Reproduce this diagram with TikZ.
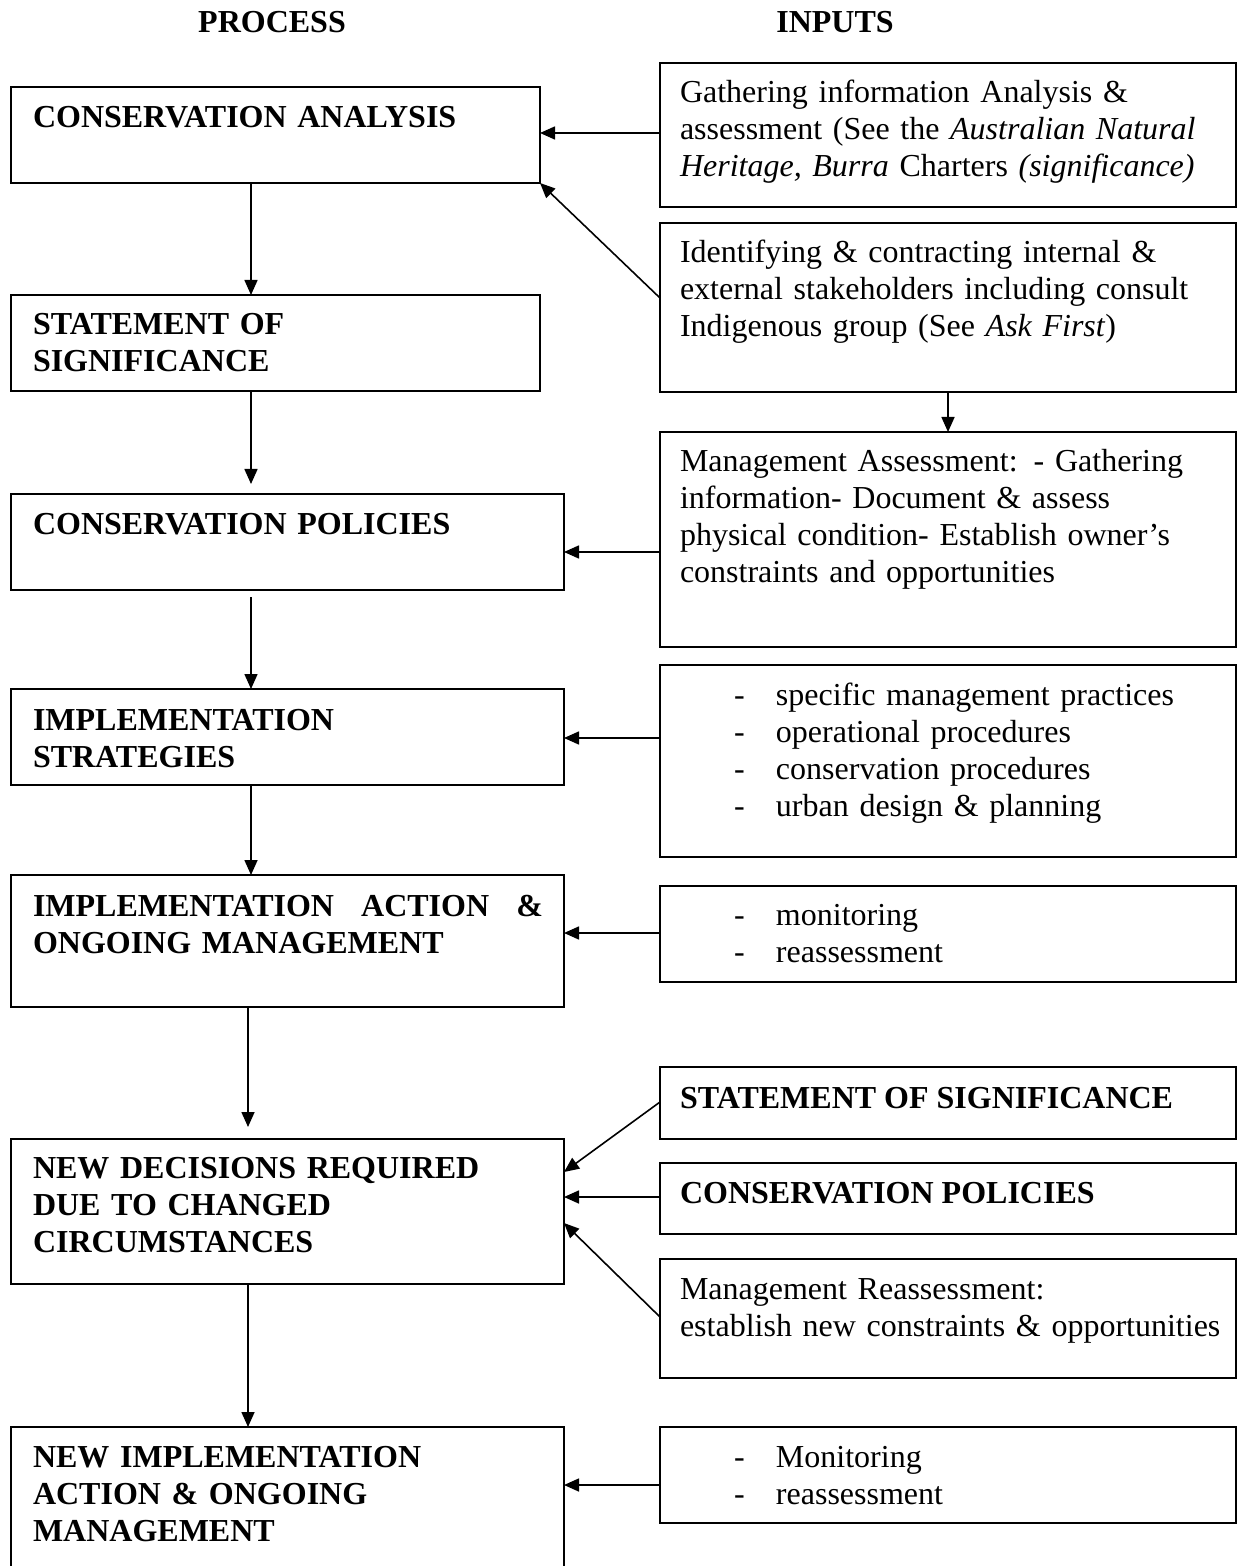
\documentclass[tikz,border=0pt]{standalone}
\usepackage{fontspec}
\setmainfont{Liberation Serif}
\usetikzlibrary{arrows.meta,fit}
\begin{document}
\begin{tikzpicture}[x=0.5pt,y=-0.5pt,
  box/.style={draw, line width=1pt, inner sep=0pt, outer sep=0pt},
  txt/.style={anchor=base west, inner sep=0pt, outer sep=0pt, align=left, font=\fontsize{16pt}{18.5pt}\selectfont},
  btxt/.style={txt, font=\fontsize{16pt}{18.5pt}\selectfont\bfseries},
  ltxt/.style={btxt, text width=255pt},
  rtxt/.style={txt, text width=280pt},
  hdr/.style={anchor=base, inner sep=0pt, font=\fontsize{16pt}{18.5pt}\selectfont\bfseries},
  arr/.style={-{Triangle[length=7.5pt,width=6.5pt]}, line width=0.8pt}]
\useasboundingbox (0,0) rectangle (1238,1566);

% headers
\node[hdr] (hp) at (272,33) {PROCESS};
\node[hdr] (hi) at (835,33) {INPUTS};

% process column
\node[box, fit={(11,87) (540,183)}] (b1) {};
\node[ltxt] (b1t) at (33,128) {CONSERVATION ANALYSIS};
\node[box, fit={(11,295) (540,391)}] (b2) {};
\node[ltxt] (b2t) at (33,335) {STATEMENT OF\\SIGNIFICANCE};
\node[box, fit={(11,494) (564,590)}] (b3) {};
\node[ltxt] (b3t) at (33,535) {CONSERVATION POLICIES};
\node[box, fit={(11,689) (564,785)}] (b4) {};
\node[ltxt] (b4t) at (33,730) {IMPLEMENTATION\\STRATEGIES};
\node[box, fit={(11,875) (564,1007)}] (b5) {};
\node[ltxt] (b5t) at (33,916) {IMPLEMENTATION\hfill ACTION\hfill \&\\ONGOING MANAGEMENT};
\node[box, fit={(11,1139) (564,1284)}] (b6) {};
\node[ltxt] (b6t) at (33,1178) {NEW DECISIONS REQUIRED\\DUE TO CHANGED\\CIRCUMSTANCES};
\node[box, fit={(11,1427) (564,1640)}] (b7) {};
\node[ltxt] (b7t) at (33,1467) {NEW IMPLEMENTATION\\ACTION \& ONGOING\\MANAGEMENT};

% inputs column
\node[box, fit={(660,63) (1236,207)}] (r1) {};
\node[rtxt] (r1t) at (680,103) {Gathering information Analysis \&\\assessment (See the \textit{Australian Natural}\\\textit{Heritage, Burra} Charters \textit{(significance)}};
\node[box, fit={(660,223) (1236,392)}] (r2) {};
\node[rtxt] (r2t) at (680,263) {Identifying \& contracting internal \&\\external stakeholders including consult\\Indigenous group (See \textit{Ask First})};
\node[box, fit={(660,432) (1236,647)}] (r3) {};
\node[rtxt] (r3t) at (680,472) {Management Assessment: - Gathering\\information- Document \& assess\\physical condition- Establish owner’s\\constraints and opportunities};
\node[box, fit={(660,665) (1236,857)}] (r4) {};
\node[rtxt] (r4t) at (734,705) {\makebox[21pt][l]{-}specific management practices\\\makebox[21pt][l]{-}operational procedures\\\makebox[21pt][l]{-}conservation procedures\\\makebox[21pt][l]{-}urban design \& planning};
\node[box, fit={(660,886) (1236,982)}] (r5) {};
\node[rtxt] (r5t) at (734,925) {\makebox[21pt][l]{-}monitoring\\\makebox[21pt][l]{-}reassessment};
\node[box, fit={(660,1067) (1236,1139)}] (r6) {};
\node[btxt] (r6t) at (680,1108) {STATEMENT OF SIGNIFICANCE};
\node[box, fit={(660,1163) (1236,1234)}] (r7) {};
\node[btxt] (r7t) at (680,1203) {CONSERVATION POLICIES};
\node[box, fit={(660,1259) (1236,1378)}] (r8) {};
\node[rtxt] (r8t) at (680,1299) {Management Reassessment:\\establish new constraints \& opportunities};
\node[box, fit={(660,1427) (1236,1523)}] (r9) {};
\node[rtxt] (r9t) at (734,1467) {\makebox[21pt][l]{-}Monitoring\\\makebox[21pt][l]{-}reassessment};

% vertical connectors
\coordinate (xa) at (251,0);
\coordinate (xb) at (248,0);
\coordinate (xc) at (948,0);
\draw[arr] (b1.south -| xa) -- (b2.north -| xa);
\draw[arr, shorten >=5pt] (b2.south -| xa) -- (b3.north -| xa);
\draw[arr, shorten <=3.5pt] (b3.south -| xa) -- (b4.north -| xa);
\draw[arr] (b4.south -| xa) -- (b5.north -| xa);
\draw[arr, shorten >=6pt] (b5.south -| xb) -- (b6.north -| xb);
\draw[arr] (b6.south -| xb) -- (b7.north -| xb);
\draw[arr] (r2.south -| xc) -- (r3.north -| xc);

% horizontal / diagonal connectors
\draw[arr] ([yshift=-35pt]r1.north west) -- ([yshift=-23pt]b1.north east);
\draw[arr] ([yshift=-37.5pt]r2.north west) -- (b1.south east);
\draw[arr] ([yshift=-60pt]r3.north west) -- ([yshift=-29pt]b3.north east);
\draw[arr] ([yshift=-36.5pt]r4.north west) -- ([yshift=-24.5pt]b4.north east);
\draw[arr] ([yshift=-23.5pt]r5.north west) -- ([yshift=-29pt]b5.north east);
\draw[arr] ([yshift=-17.5pt]r6.north west) -- ([yshift=-16.5pt]b6.north east);
\draw[arr] ([yshift=-17pt]r7.north west) -- ([yshift=-29pt]b6.north east);
\draw[arr] ([yshift=-29pt]r8.north west) -- ([yshift=-42pt]b6.north east);
\draw[arr] ([yshift=-29pt]r9.north west) -- ([yshift=-29pt]b7.north east);
\end{tikzpicture}
\end{document}
